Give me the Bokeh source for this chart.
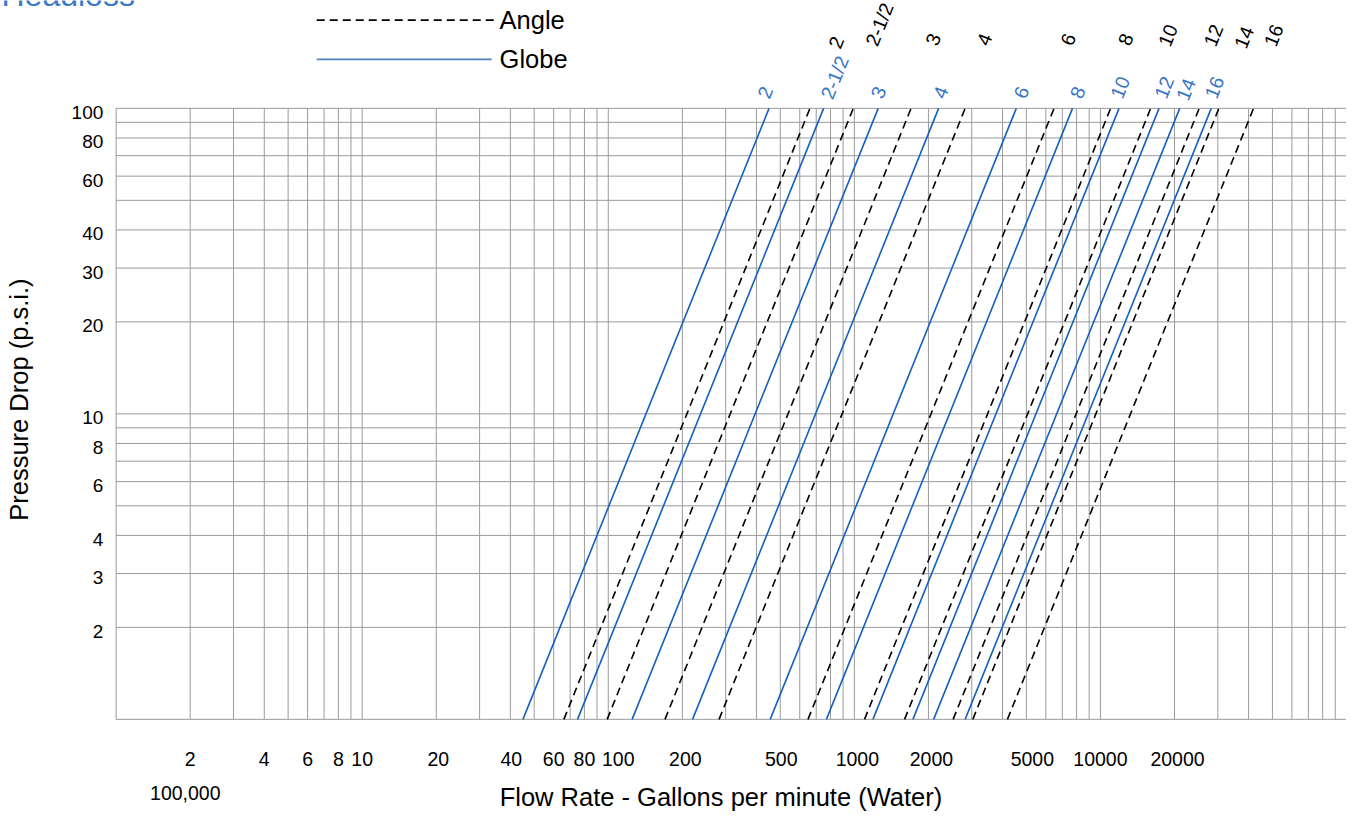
import math
from bokeh.plotting import figure
from bokeh.models import Range1d, ColumnDataSource
from bokeh.embed import file_html
from bokeh.resources import INLINE
from bokeh.core.properties import value

# ---------------- data ----------------
sizes = ["2", "2-1/2", "3", "4", "6", "8", "10", "12", "14", "16"]
# flow (gpm) at 1 psi and at 100 psi for each valve size
globe_q_1psi = [45, 75, 125, 220, 455, 770, 1190, 1730, 2100, 2820]
globe_q_100psi = [450, 750, 1250, 2200, 4550, 7700, 11900, 17300, 21000, 28200]
angle_q_1psi = [66, 99, 170, 282, 648, 1100, 1600, 2520, 3030, 4190]
angle_q_100psi = [660, 990, 1700, 2820, 6480, 11000, 16000, 25200, 30300, 41900]
p_low = [1] * len(sizes)
p_high = [100] * len(sizes)

x_tick_values = [2, 4, 6, 8, 10, 20, 40, 60, 80, 100, 200, 500, 1000, 2000, 5000, 10000, 20000]
x_tick_labels = ["2", "4", "6", "8", "10", "20", "40", "60", "80", "100", "200", "500",
                 "1000", "2000", "5000", "10000", "20000"]
y_tick_values = [2, 3, 4, 6, 8, 10, 20, 30, 40, 60, 80, 100]
y_tick_labels = ["2", "3", "4", "6", "8", "10", "20", "30", "40", "60", "80", "100"]

grid_x = [m * 10 ** k for k in range(5) for m in range(1, 10)] + [100000]
grid_y = [1, 2, 3, 4, 5, 6, 7, 8, 9, 10, 20, 30, 40, 50, 60, 70, 80, 90, 100]

# ---------------- layout (reference pixel -> data) ----------------
W, H = 1346, 812          # canvas size
REF_W, REF_H = 1362, 828  # reference picture size
X0PX, DEC_X = 117.0, 249.0     # ref x of flow=1, pixels per decade
Y0PX, DEC_Y = 110.0, 311.5     # ref y of dp=100, pixels per decade


def X(px):
    return 10 ** ((px - X0PX) / DEC_X)


def Y(py):
    return 10 ** (2 - (py - Y0PX) / DEC_Y)


FONT = value("Liberation Sans")
BLUE = "#1560bd"
BLUE_TXT = "#3a76c4"
TICK_FS = "19.5px"
BIG_FS = "25.5px"

p = figure(width=W, height=H, x_axis_type="log", y_axis_type="log",
           x_range=Range1d(X(0), X(REF_W)), y_range=Range1d(Y(REF_H), Y(0)),
           x_axis_location=None, y_axis_location=None,
           toolbar_location=None, output_backend="svg",
           min_border=0, min_border_left=0, min_border_right=0,
           min_border_top=0, min_border_bottom=0)
p.outline_line_color = None
p.background_fill_color = "white"
p.border_fill_color = "white"
p.title.visible = False
p.xgrid.visible = False
p.ygrid.visible = False

# grid
p.segment(x0=grid_x, x1=grid_x, y0=[1] * len(grid_x), y1=[100] * len(grid_x),
          line_color="#9a9a9a", line_width=1)
p.segment(x0=[1] * len(grid_y), x1=[200000] * len(grid_y), y0=grid_y, y1=grid_y,
          line_color="#9a9a9a", line_width=1)

# valve lines
gsrc = ColumnDataSource(dict(x0=globe_q_1psi, x1=globe_q_100psi, y0=p_low, y1=p_high, size=sizes,
                             dx=[-4, 11, 0, 2, 5, 5, 1, 5, 6, 3],
                             dy=[-16, -31, -16, -16, -16, -16, -21, -21, -19, -21]))
asrc = ColumnDataSource(dict(x0=angle_q_1psi, x1=angle_q_100psi, y0=p_low, y1=p_high, size=sizes,
                             dx=[26, 26, 22, 19, 14, 15, 17, 14, 25, 20],
                             dy=[-66, -84, -69, -69, -69, -69, -73, -73, -71, -73]))

p.segment(x0="x0", y0="y0", x1="x1", y1="y1", source=asrc, line_color="black",
          line_width=1.6, line_dash="8 5")
p.segment(x0="x0", y0="y0", x1="x1", y1="y1", source=gsrc, line_color=BLUE,
          line_width=1.6)

ang = math.atan2(2 * DEC_Y, DEC_X)
p.text(x="x1", y="y1", text="size", source=gsrc, x_offset="dx", y_offset="dy",
       angle=ang, text_align="center", text_baseline="middle",
       text_font=FONT, text_font_size=TICK_FS, text_color=BLUE_TXT)
p.text(x="x1", y="y1", text="size", source=asrc, x_offset="dx", y_offset="dy",
       angle=ang, text_align="center", text_baseline="middle",
       text_font=FONT, text_font_size=TICK_FS, text_color="black")

# tick labels
x_label_dx = [0, 0, 0, 0, 0, 2, 1, 0, 0, 10, 3, 1, 3, 3, 6, 0, 3]
p.text(x=x_tick_values, y=[Y(773)] * len(x_tick_values), text=x_tick_labels,
       x_offset=x_label_dx, text_align="center", text_baseline="middle", text_font=FONT,
       text_font_size=TICK_FS, text_color="black")
p.text(x=[X(104)] * len(y_tick_values), y=y_tick_values, text=y_tick_labels,
       y_offset=4, text_align="right", text_baseline="middle", text_font=FONT,
       text_font_size="19px", text_color="black")
p.text(x=[X(187)], y=[Y(808)], text=["100,000"], text_align="center",
       text_baseline="middle", text_font=FONT, text_font_size=TICK_FS, text_color="black")

# axis titles
p.text(x=[X(729)], y=[Y(812)], text=["Flow Rate - Gallons per minute (Water)"],
       text_align="center", text_baseline="middle", text_font=FONT,
       text_font_size=BIG_FS, text_color="black")
p.text(x=[X(19)], y=[Y(407)], text=["Pressure Drop (p.s.i.)"], angle=math.pi / 2,
       text_align="center", text_baseline="middle", text_font=FONT,
       text_font_size=BIG_FS, text_color="black")

# legend
p.segment(x0=[X(320)], x1=[X(500)], y0=[Y(20)], y1=[Y(20)], line_color="black",
          line_width=1.6, line_dash="8 5")
p.segment(x0=[X(320)], x1=[X(497)], y0=[Y(60)], y1=[Y(60)], line_color="#4f81bd",
          line_width=1.6)
p.text(x=[X(505), X(505)], y=[Y(20), Y(60)], text=["Angle", "Globe"],
       text_align="left", text_baseline="middle", text_font=FONT,
       text_font_size=BIG_FS, text_color="black")

# title, cut at the top edge as in the reference
p.text(x=[X(1)], y=[Y(4)], text=["Headloss"], text_align="left", y_offset=-9,
       text_baseline="alphabetic", text_font=FONT, text_font_size="32px",
       text_color="#3c78c8")

open("out.html", "w").write(file_html(p, INLINE))
